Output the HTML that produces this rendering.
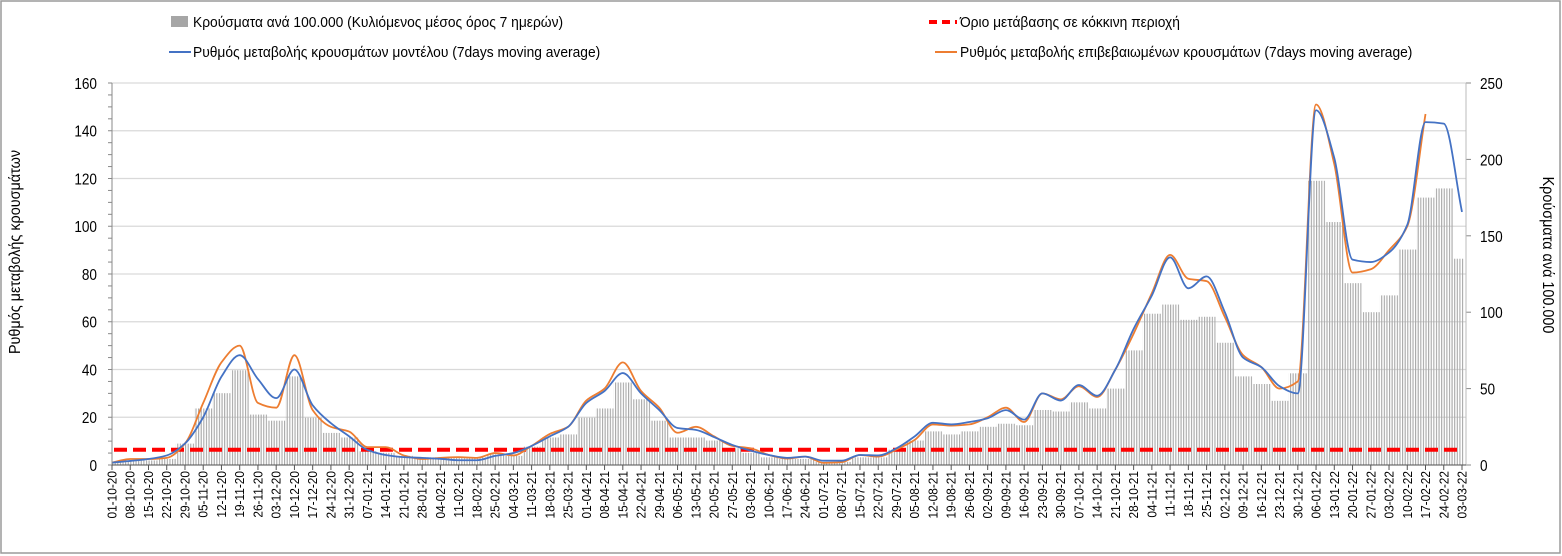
<!DOCTYPE html>
<html><head><meta charset="utf-8"><style>
body{margin:0;background:#fff;}
svg{display:block;font-family:"Liberation Sans","DejaVu Sans",sans-serif;}
</style></head><body>
<svg id="chart" width="1562" height="556" viewBox="0 0 1562 556" xmlns="http://www.w3.org/2000/svg">
<defs>
<pattern id="stripes" patternUnits="userSpaceOnUse" width="2.606" height="10">
<rect x="0" y="0" width="1.1" height="10" fill="#a8a8a8"/>
</pattern>
</defs>
<rect x="1" y="1" width="1559" height="552" fill="#fff" stroke="#9a9a9a" stroke-width="1.5"/>
<g id="grid"></g>
<g id="bars"></g>
<g id="lines"></g>
<g id="axes"></g>
<g>
 <g>
  <rect x="171" y="16" width="17" height="11" fill="#a6a6a6"/>
  <text x="193" y="27" font-size="15" transform="translate(193,0) scale(0.92,1) translate(-193,0)">Κρούσματα ανά 100.000 (Κυλιόμενος μέσος όρος 7 ημερών)</text>
 </g>
 <g>
  <line x1="169" y1="52" x2="191" y2="52" stroke="#4472c4" stroke-width="2"/>
  <text x="193" y="57" font-size="15" transform="translate(193,0) scale(0.92,1) translate(-193,0)">Ρυθμός μεταβολής κρουσμάτων μοντέλου (7days moving average)</text>
 </g>
 <g>
  <line x1="929" y1="22" x2="957" y2="22" stroke="#ff0000" stroke-width="4" stroke-dasharray="8,5"/>
  <text x="960" y="27" font-size="15" transform="translate(960,0) scale(0.92,1) translate(-960,0)">Όριο μετάβασης σε κόκκινη περιοχή</text>
 </g>
 <g>
  <line x1="935" y1="52" x2="957" y2="52" stroke="#ed7d31" stroke-width="2"/>
  <text x="960" y="57" font-size="15" transform="translate(960,0) scale(0.92,1) translate(-960,0)">Ρυθμός μεταβολής επιβεβαιωμένων κρουσμάτων (7days moving average)</text>
 </g>
</g>
<text x="0" y="0" font-size="16" text-anchor="middle" transform="translate(20,252) rotate(-90) scale(0.9,1)">Ρυθμός μεταβολής κρουσμάτων</text>
<text x="0" y="0" font-size="16" text-anchor="middle" transform="translate(1543,255) rotate(90) scale(0.9,1)">Κρούσματα ανά 100.000</text>
</svg>
<script>
// weekly samples starting 01-10-2020
const startDate = [2020, 9, 1];
const modelRate = [1,1.7,2.5,4,9,20,37,46,36,28,40,25,17.5,12,6.3,4.2,3.3,3,2.6,2,2,3.8,5,8,12,16,26,31,38.5,30,23,15.5,14.7,11.7,8.4,6,4.2,3,3.5,1.8,1.8,4.2,4,7,12,17.7,17,18,19.6,23,19,30,27,33.5,29,40,57,71,87,74,79,64,45,41,33,30,148.6,128.6,86,85,89,100.6,143.6,143,106];
const confirmedRate = [1,2.5,2.5,3,9,26,43,50,26,24,46,23,16,14,7.5,7.5,4,2.5,3,3.3,3,5,4,8,13,16,27,32,43,31,24,13.5,16,12,8,7,4.2,2.7,3.5,0.9,1.2,4.2,3.5,6.5,10.5,17,16.5,17,20,24,18,30,27.5,33,28.5,40,55,72,88,78,77,62,46,41,32,35,151,126,80.6,82,90,100,147,null,null];
const casesPer100k = [2,3,3,4,14,37,47,62,33,29,58,31,21,18,9,8,6,5,5,5,5,7,6,12,18,20,31,37,54,43,29,18,18,16,11,8,5,4,4,2,2,5,5,10,16,22,20,22,25,27,26,36,35,41,37,50,75,99,105,95,97,80,58,53,42,60,186,159,119,100,111,141,175,181,135];
const leftTicks = [0,20,40,60,80,100,120,140,160];
const rightTicks = [0,50,100,150,200,250];
const redThreshold = 10;

const NS = "http://www.w3.org/2000/svg";
const X0 = 112, X1 = 1466, Y0 = 465, Y1 = 83, DAYS = 518;
function xDay(d){ return X0 + (X1 - 4 - X0) * d / DAYS; }
function xWeek(k){ return xDay(k * 7); }
function yL(v){ return Y0 - (Y0 - Y1) * v / 160; }
function yR(v){ return Y0 - (Y0 - Y1) * v / 250; }
function mk(tag, attrs, parent){ const e = document.createElementNS(NS, tag); for (const k in attrs) e.setAttribute(k, attrs[k]); parent.appendChild(e); return e; }

const grid = document.getElementById('grid');
const axes = document.getElementById('axes');
const barsG = document.getElementById('bars');
const linesG = document.getElementById('lines');

leftTicks.forEach(v => {
  const g = mk('line', {x1: X0, x2: X1, y1: yL(v), y2: yL(v), stroke: '#d9d9d9', 'stroke-width': 1.2}, grid);
  
  
  const t = mk('text', {x: 97, y: yL(v) + 6, 'font-size': 16, 'text-anchor': 'end', transform: `translate(97,0) scale(0.85,1) translate(-97,0)`}, axes);
  t.textContent = v;
  
  
});
for (let v = 0; v <= 160; v += 5) mk('line', {x1: X0 - 4, x2: X0, y1: yL(v), y2: yL(v), stroke: '#888', 'stroke-width': 1}, axes);
rightTicks.forEach(v => {
  mk('line', {x1: X1, x2: X1 + 5, y1: yR(v), y2: yR(v), stroke: '#888', 'stroke-width': 1}, axes);
  const t = mk('text', {x: 1480, y: yR(v) + 6, 'font-size': 16, transform: `translate(1480,0) scale(0.85,1) translate(-1480,0)`}, axes);
  t.textContent = v;
  
  
});
mk('line', {x1: X0, x2: X0, y1: Y1, y2: Y0, stroke: '#888', 'stroke-width': 1}, axes);
mk('line', {x1: X1, x2: X1, y1: Y1, y2: Y0, stroke: '#bbb', 'stroke-width': 1}, axes);
mk('line', {x1: X0, x2: X1, y1: Y0, y2: Y0, stroke: '#555', 'stroke-width': 1}, axes);

// bars
casesPer100k.forEach((v, k) => {
  const xa = xDay(k * 7 - 3.5), xb = xDay(k * 7 + 3.5);
  const x = Math.max(X0, xa), w = Math.min(X1 - 2, xb) - x;
  const r = mk('rect', {x: x, y: yR(v), width: w, height: Y0 - yR(v), fill: 'url(#stripes)'}, barsG);
  
  
});

// threshold
const th = mk('line', {x1: X0 + 2, x2: X1 - 6, y1: yR(redThreshold), y2: yR(redThreshold), stroke: '#ff0000', 'stroke-width': 4, 'stroke-dasharray': '13,6'}, linesG);



// monotone cubic (no overshoot)
function smoothPath(arr){
  const pts = [];
  arr.forEach((v, k) => { if (v !== null) pts.push([xWeek(k), yL(v)]); });
  const n = pts.length, dx = [], sl = [], m = [];
  for (let i = 0; i < n - 1; i++) { dx.push(pts[i+1][0] - pts[i][0]); sl.push((pts[i+1][1] - pts[i][1]) / dx[i]); }
  m[0] = sl[0]; m[n-1] = sl[n-2];
  for (let i = 1; i < n - 1; i++) {
    if (sl[i-1] * sl[i] <= 0) m[i] = 0;
    else m[i] = 2 / (1 / sl[i-1] + 1 / sl[i]);
  }
  let d = `M${pts[0][0]},${pts[0][1]}`;
  for (let i = 0; i < n - 1; i++) {
    const h = dx[i] / 3;
    d += ` C${pts[i][0] + h},${pts[i][1] + m[i] * h} ${pts[i+1][0] - h},${pts[i+1][1] - m[i+1] * h} ${pts[i+1][0]},${pts[i+1][1]}`;
  }
  return d;
}
const oPath = mk('path', {d: smoothPath(confirmedRate), fill: 'none', stroke: '#ed7d31', 'stroke-width': 1.8}, linesG);


const bPath = mk('path', {d: smoothPath(modelRate), fill: 'none', stroke: '#4472c4', 'stroke-width': 1.8}, linesG);



// x ticks & labels
for (let k = 0; k <= 74; k++) {
  const x = xWeek(k);
  mk('line', {x1: x, x2: x, y1: Y0, y2: Y0 + 5, stroke: '#555', 'stroke-width': 1}, axes);
  const dt = new Date(startDate[0], startDate[1], startDate[2] + k * 7);
  const lbl = String(dt.getDate()).padStart(2, '0') + '-' + String(dt.getMonth() + 1).padStart(2, '0') + '-' + String(dt.getFullYear() % 100);
  const t = mk('text', {x: 0, y: 0, 'font-size': 12.5, 'text-anchor': 'end', transform: `translate(${x + 4.5},471) rotate(-90) scale(0.95,1)`}, axes);
  t.textContent = lbl;
  
  
}
</script>
</body></html>
